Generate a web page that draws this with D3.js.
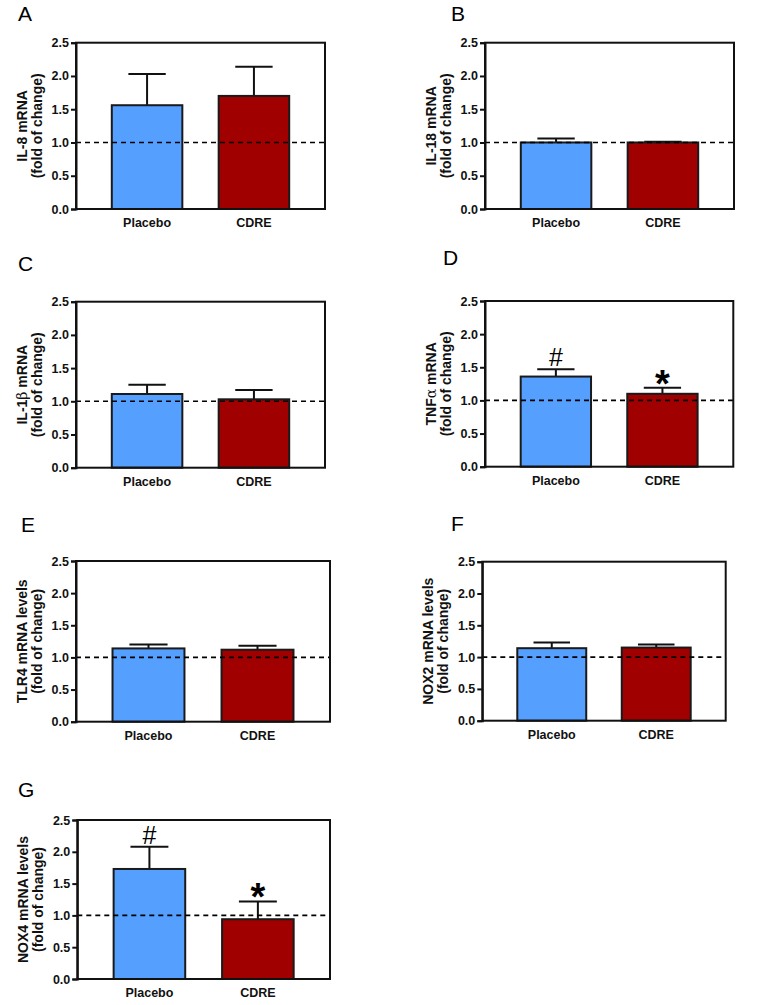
<!DOCTYPE html>
<html>
<head>
<meta charset="utf-8">
<script src="https://cdn.jsdelivr.net/npm/d3@7"></script>
<style>
  body { margin: 0; background: #fff; }
  svg { display: block; }
</style>
</head>
<body>
<svg id="chart" width="774" height="1005"></svg>
<script>
// ---------- DATA ----------
const panelLetters = ["A", "B", "C", "D", "E", "F", "G"];
const groups = ["Placebo", "CDRE"];
const placeboMean = [1.56, 1.00, 1.11, 1.36, 1.14, 1.14, 1.73];
const placeboSEM  = [0.47, 0.06, 0.14, 0.11, 0.06, 0.09, 0.35];
const cdreMean    = [1.70, 1.00, 1.03, 1.10, 1.12, 1.15, 0.94];
const cdreSEM     = [0.44, 0.01, 0.14, 0.09, 0.06, 0.05, 0.28];
const yTicks = [0, 0.5, 1.0, 1.5, 2.0, 2.5];
const yLabelMain = [
  ["IL-8 mRNA"], ["IL-18 mRNA"], ["IL-1", "β", " mRNA"], ["TNF", "α", " mRNA"],
  ["TLR4 mRNA levels"], ["NOX2 mRNA levels"], ["NOX4 mRNA levels"]
];
const yLabelSub = "(fold of change)";
const placeboMarks = ["", "", "", "#", "", "", "#"];
const cdreMarks    = ["", "", "", "*", "", "", "*"];
const referenceLevel = 1.0;

// ---------- LAYOUT ----------
const layout = [
  {l: 76,    r: 325,   t: 42.7,  b: 209,   lx: 18,  ly: 20.5},
  {l: 485,   r: 734,   t: 42.7,  b: 209,   lx: 451, ly: 20.5},
  {l: 76,    r: 325,   t: 301.7, b: 467.7, lx: 18,  ly: 271},
  {l: 485,   r: 733.3, t: 301,   b: 466.7, lx: 443, ly: 265},
  {l: 76,    r: 330,   t: 561,   b: 721.7, lx: 21,  ly: 532},
  {l: 482.3, r: 725.7, t: 561.7, b: 720.7, lx: 451, ly: 531},
  {l: 77.3,  r: 330,   t: 820,   b: 979,   lx: 18,  ly: 797}
];
const colors = {Placebo: "#55A0FF", CDRE: "#A00000"};
const axisFont = "'Liberation Sans', Arial, Helvetica, sans-serif";

const svg = d3.select("#chart");

panelLetters.forEach((letter, i) => {
  const L = layout[i];
  const g = svg.append("g");
  const x = d3.scaleBand().domain(groups).range([L.l, L.r]).paddingInner(0.34).paddingOuter(0.335);
  const y = d3.scaleLinear().domain([0, 2.5]).range([L.b, L.t]);

  const data = [
    {grp: "Placebo", mean: placeboMean[i], sem: placeboSEM[i], mark: placeboMarks[i]},
    {grp: "CDRE", mean: cdreMean[i], sem: cdreSEM[i], mark: cdreMarks[i]}
  ];

  // panel letter
  g.append("text")
    .attr("x", L.lx).attr("y", L.ly)
    .attr("font-family", axisFont)
    .attr("font-size", 21)
    .attr("fill", "#000")
    .text(letter);

  // error bars (upward only)
  const capHalf = x.bandwidth() * 0.265;
  data.forEach(d => {
    const cx = x(d.grp) + x.bandwidth() / 2;
    g.append("line")
      .attr("x1", cx).attr("x2", cx)
      .attr("y1", y(d.mean)).attr("y2", y(d.mean + d.sem))
      .attr("stroke", "#111").attr("stroke-width", 2);
    g.append("line")
      .attr("x1", cx - capHalf).attr("x2", cx + capHalf)
      .attr("y1", y(d.mean + d.sem)).attr("y2", y(d.mean + d.sem))
      .attr("stroke", "#111").attr("stroke-width", 2);
  });

  // bars
  g.selectAll("rect.bar").data(data).enter().append("rect")
    .attr("class", "bar")
    .attr("x", d => x(d.grp))
    .attr("y", d => y(d.mean))
    .attr("width", x.bandwidth())
    .attr("height", d => y(0) - y(d.mean))
    .attr("fill", d => colors[d.grp])
    .attr("stroke", "#1a1a1a")
    .attr("stroke-width", 2);

  // reference dashed line
  g.append("line")
    .attr("x1", L.l).attr("x2", L.r)
    .attr("y1", y(referenceLevel)).attr("y2", y(referenceLevel))
    .attr("stroke", "#000").attr("stroke-width", 1.6)
    .attr("stroke-dasharray", "5,4");

  // frame
  g.append("rect")
    .attr("x", L.l).attr("y", L.t)
    .attr("width", L.r - L.l).attr("height", L.b - L.t)
    .attr("fill", "none").attr("stroke", "#111").attr("stroke-width", 2);

  // y axis
  const yAxis = d3.axisLeft(y).tickValues(yTicks).tickFormat(d3.format(".1f"))
    .tickSize(5).tickPadding(2);
  const ya = g.append("g").attr("transform", `translate(${L.l},0)`).call(yAxis);
  ya.select(".domain").attr("stroke", "#111").attr("stroke-width", 2);
  ya.selectAll(".tick line").attr("stroke", "#111").attr("stroke-width", 2);
  ya.selectAll(".tick text")
    .attr("font-family", axisFont).attr("font-size", 12.5).attr("font-weight", "bold")
    .attr("fill", "#111");

  // x axis labels
  const xAxis = d3.axisBottom(x).tickSize(0).tickPadding(9);
  const xa = g.append("g").attr("transform", `translate(0,${L.b})`).call(xAxis);
  xa.select(".domain").remove();
  xa.selectAll(".tick text")
    .attr("font-family", axisFont).attr("font-size", 12.5).attr("font-weight", "bold")
    .attr("fill", "#111");

  // y labels
  const cy = (L.t + L.b) / 2;
  const t1 = g.append("text")
    .attr("transform", `translate(${L.l - 49},${cy}) rotate(-90)`)
    .attr("text-anchor", "middle")
    .attr("font-family", axisFont).attr("font-size", 14).attr("font-weight", "bold")
    .attr("fill", "#111");
  yLabelMain[i].forEach((part, k) => {
    const isGreek = (part === "β" || part === "α");
    t1.append("tspan")
      .attr("font-weight", isGreek ? "normal" : "bold")
      .attr("font-family", isGreek ? "'DejaVu Serif', serif" : axisFont)
      .text(part);
  });
  g.append("text")
    .attr("transform", `translate(${L.l - 34},${cy}) rotate(-90)`)
    .attr("text-anchor", "middle")
    .attr("font-family", axisFont).attr("font-size", 14).attr("font-weight", "bold")
    .attr("fill", "#111")
    .text(yLabelSub);

  // significance marks
  data.forEach(d => {
    if (!d.mark) return;
    const cx = x(d.grp) + x.bandwidth() / 2;
    const top = y(d.mean + d.sem);
    if (d.mark === "#") {
      g.append("text")
        .attr("x", cx).attr("y", top - 3)
        .attr("text-anchor", "middle")
        .attr("font-family", axisFont).attr("font-size", 25)
        .attr("fill", "#000")
        .text("#");
    } else {
      g.append("text")
        .attr("x", cx).attr("y", top + 9)
        .attr("text-anchor", "middle")
        .attr("font-family", axisFont).attr("font-size", 38).attr("font-weight", "bold")
        .attr("fill", "#000")
        .text("*");
    }
  });
});
</script>
</body>
</html>
